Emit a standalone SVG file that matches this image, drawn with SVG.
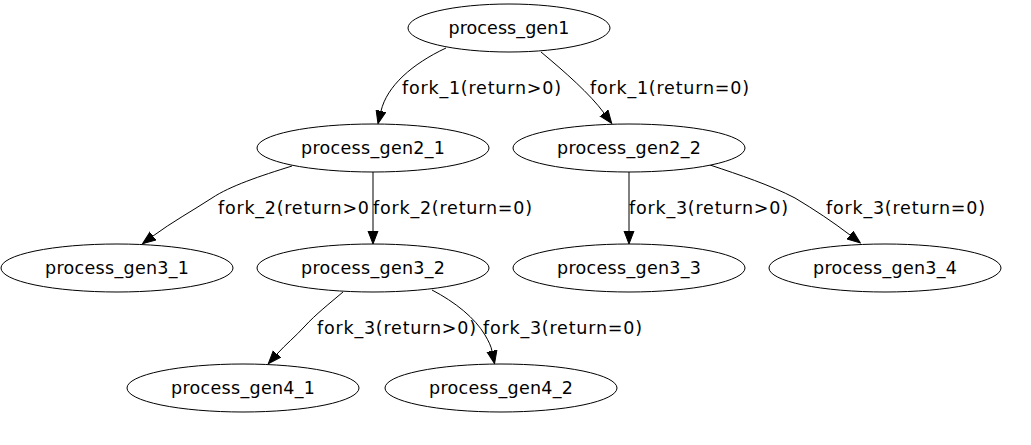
<svg xmlns="http://www.w3.org/2000/svg" width="1031" height="445" viewBox="0 0 1031 445">
<defs>
<style>
.node ellipse{fill:#fff;stroke:#000;stroke-width:1}
.node text{font-family:"DejaVu Sans",sans-serif;font-size:17.5px;text-anchor:middle;fill:#000}
.edge path{fill:none;stroke:#000;stroke-width:1}
.lbl{font-family:"DejaVu Sans",sans-serif;font-size:17.5px;fill:#000}
</style>
<marker id="ah" markerUnits="userSpaceOnUse" markerWidth="14" markerHeight="12" refX="0" refY="5.5" orient="auto" viewBox="0 0 14 12">
<path d="M0,0.5 L13,5.5 L0,10.5 Z" fill="#000" stroke="#000" stroke-width="1"/>
</marker>
</defs>
<rect width="1031" height="445" fill="#fff"/>
<g id="connectors" class="edge">
<path d="M446,48 C412,64 387,86 381,111" marker-end="url(#ah)"/>
<path d="M541,52 C565,72 590,94 604,113" marker-end="url(#ah)"/>
<path d="M292,166 C260,176 230,186 212,198 C192,211 172,222 153,236" marker-end="url(#ah)"/>
<path d="M373,172 L373,231" marker-end="url(#ah)"/>
<path d="M629,172 L629,231" marker-end="url(#ah)"/>
<path d="M710,165 C740,175 770,185 795,198 C815,210 833,222 850,235" marker-end="url(#ah)"/>
<path d="M343,292 C330,303 315,315 305,326 C295,337 286,344 277,354" marker-end="url(#ah)"/>
<path d="M432,290 C455,302 475,318 485,335 C489,342 491,346 492,351" marker-end="url(#ah)"/>
<text class="lbl" x="402" y="94" textLength="159">fork_1(return&gt;0)</text>
<text class="lbl" x="590" y="94" textLength="159">fork_1(return=0)</text>
<text class="lbl" x="218" y="214" textLength="151">fork_2(return&gt;0</text>
<text class="lbl" x="373" y="214" textLength="159">fork_2(return=0)</text>
<text class="lbl" x="629" y="214" textLength="159">fork_3(return&gt;0)</text>
<text class="lbl" x="826" y="214" textLength="159">fork_3(return=0)</text>
<text class="lbl" x="317" y="334" textLength="159">fork_3(return&gt;0)</text>
<text class="lbl" x="483" y="334" textLength="159">fork_3(return=0)</text>
</g>
<g id="process_gen1" class="node"><ellipse cx="509" cy="28" rx="101" ry="24"/><text x="509" y="34" textLength="121">process_gen1</text></g>
<g id="process_gen2_1" class="node"><ellipse cx="373" cy="148" rx="116" ry="24"/><text x="373" y="154" textLength="144">process_gen2_1</text></g>
<g id="process_gen2_2" class="node"><ellipse cx="629" cy="148" rx="116" ry="24"/><text x="629" y="154" textLength="144">process_gen2_2</text></g>
<g id="process_gen3_1" class="node"><ellipse cx="117" cy="268" rx="116" ry="24"/><text x="117" y="274" textLength="144">process_gen3_1</text></g>
<g id="process_gen3_2" class="node"><ellipse cx="373" cy="268" rx="116" ry="24"/><text x="373" y="274" textLength="144">process_gen3_2</text></g>
<g id="process_gen3_3" class="node"><ellipse cx="629" cy="268" rx="116" ry="24"/><text x="629" y="274" textLength="144">process_gen3_3</text></g>
<g id="process_gen3_4" class="node"><ellipse cx="885" cy="268" rx="116" ry="24"/><text x="885" y="274" textLength="144">process_gen3_4</text></g>
<g id="process_gen4_1" class="node"><ellipse cx="243" cy="388" rx="116" ry="24"/><text x="243" y="394" textLength="144">process_gen4_1</text></g>
<g id="process_gen4_2" class="node"><ellipse cx="501" cy="388" rx="116" ry="24"/><text x="501" y="394" textLength="144">process_gen4_2</text></g>
</svg>
